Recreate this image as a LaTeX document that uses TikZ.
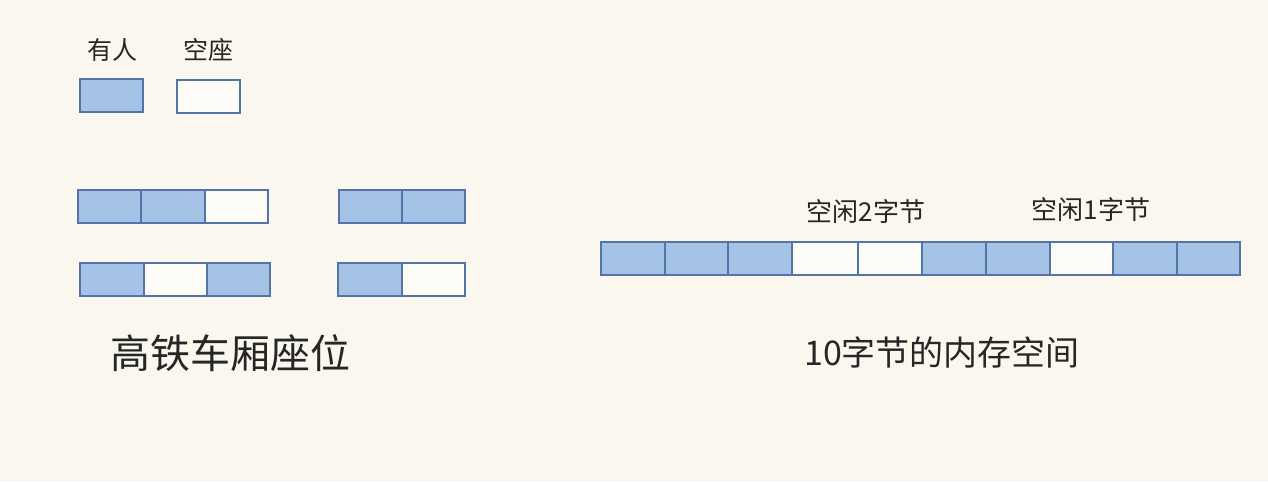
\documentclass[tikz,border=0pt]{standalone}
\usepackage{fontspec}
\setmainfont{Noto Sans CJK SC}
\usepackage{xcolor}
\definecolor{paper}{HTML}{FAF8EE}
\definecolor{seat}{HTML}{A4C2E6}
\definecolor{seatline}{HTML}{5673A8}
\tikzset{
  taken/.style={draw=seatline, line width=1pt, fill=seat},
  free/.style={draw=seatline, line width=1pt, fill=paper!60!white},
  lbl/.style={inner sep=0pt, text=black!85}
}

\begin{document}
\begin{tikzpicture}[x=0.5pt, y=-0.5pt]
            \fill[paper] (0,0) rectangle (1268,482);
            \useasboundingbox (0,0) rectangle (1268,482);

            % legend
            \node[lbl, font=\fontsize{12.5pt}{14pt}\selectfont] (takenlbl) at (112, 50) {有人};
            \node[lbl, font=\fontsize{12.5pt}{14pt}\selectfont] (freelbl) at (208, 50) {空座};
            \draw[taken]  (80, 79) rectangle (143, 112);
            \draw[free]  (177, 80) rectangle (240, 113);

            % seats, row 1
            \draw[taken]  (78, 190) rectangle (141, 223);
            \draw[taken]  (141, 190) rectangle (205, 223);
            \draw[free]  (205, 190) rectangle (268, 223);
            \draw[taken]  (339, 190) rectangle (402, 223);
            \draw[taken]  (402, 190) rectangle (465, 223);

            % seats, row 2
            \draw[taken]  (80, 263) rectangle (144, 296);
            \draw[free]  (144, 263) rectangle (207, 296);
            \draw[taken]  (207, 263) rectangle (270, 296);
            \draw[taken]  (338, 263) rectangle (402, 296);
            \draw[free]  (402, 263) rectangle (465, 296);

            \node[lbl, font=\fontsize{20pt}{24pt}\selectfont] (trainlbl) at (230, 353) {高铁车厢座位};

            % memory, 10 bytes
            \draw[taken]  (601, 242) rectangle (665, 275);
            \draw[taken]  (665, 242) rectangle (728, 275);
            \draw[taken]  (728, 242) rectangle (792, 275);
            \draw[free]  (792, 242) rectangle (858, 275);
            \draw[free]  (858, 242) rectangle (922, 275);
            \draw[taken]  (922, 242) rectangle (986, 275);
            \draw[taken]  (986, 242) rectangle (1050, 275);
            \draw[free]  (1050, 242) rectangle (1113, 275);
            \draw[taken]  (1113, 242) rectangle (1177, 275);
            \draw[taken]  (1177, 242) rectangle (1240, 275);

            \node[lbl, font=\fontsize{13pt}{15pt}\selectfont] (gaptwo) at (866, 212) {空闲2字节};
            \node[lbl, font=\fontsize{13pt}{15pt}\selectfont] (gapone) at (1091, 210) {空闲1字节};
            \node[lbl, font=\fontsize{17pt}{20pt}\selectfont] (memlbl) at (942, 352) {10字节的内存空间};
        \end{tikzpicture}
\end{document}
